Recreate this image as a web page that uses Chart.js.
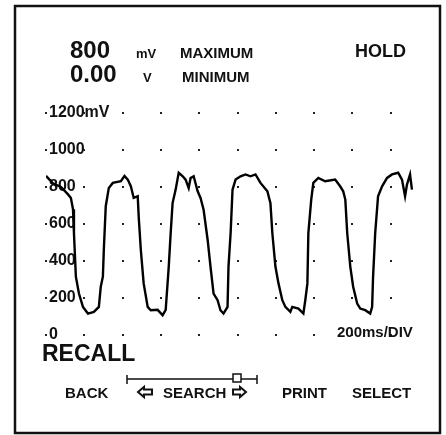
<!DOCTYPE html>
<html>
<head>
<meta charset="utf-8">
<script src="https://cdn.jsdelivr.net/npm/chart.js@4"></script>
<style>
  html, body { margin: 0; padding: 0; background: #fff; }
  #wrap { position: relative; width: 446px; height: 435px; }
</style>
</head>
<body>
<div id="wrap"><canvas id="scope"></canvas></div>
<script>
// trace (time in ms, level in mV)
const timeMs = [0, 36, 78, 115, 130, 141, 146, 156, 172, 193, 219, 250, 276, 286, 297, 302, 312, 328, 349, 391, 410, 427, 443, 458, 479, 484, 495, 510, 531, 547, 583, 609, 625, 641, 651, 661, 677, 693, 714, 729, 745, 755, 771, 792, 807, 823, 844, 859, 875, 896, 911, 927, 948, 953, 964, 974, 990, 1016, 1042, 1068, 1094, 1120, 1156, 1172, 1182, 1198, 1214, 1234, 1250, 1276, 1286, 1318, 1344, 1354, 1365, 1370, 1385, 1396, 1422, 1458, 1510, 1536, 1552, 1563, 1573, 1589, 1604, 1625, 1641, 1667, 1693, 1703, 1708, 1719, 1734, 1755, 1781, 1807, 1839, 1859, 1875, 1885, 1901, 1911]
const voltsMv = [860, 820, 800, 760, 741, 680, 550, 315, 224, 152, 116, 125, 152, 261, 315, 462, 696, 795, 822, 831, 860, 840, 804, 741, 750, 641, 462, 279, 152, 134, 136, 107, 136, 370, 550, 713, 786, 877, 858, 840, 795, 849, 858, 777, 741, 677, 515, 370, 224, 188, 134, 116, 152, 370, 550, 786, 840, 858, 868, 858, 868, 822, 777, 713, 550, 370, 279, 188, 152, 125, 152, 143, 116, 188, 279, 550, 732, 822, 849, 831, 840, 804, 777, 732, 550, 370, 261, 170, 143, 134, 116, 152, 315, 550, 750, 804, 849, 868, 877, 840, 750, 813, 868, 786]
const yTicks = [0, 200, 400, 600, 800, 1000, 1200]
const yTickLabels = ['0', '200', '400', '600', '800', '1000', '1200mV']
const xDivs = [0, 200, 400, 600, 800, 1000, 1200, 1400, 1600, 1800]

const points = timeMs.map((t, i) => ({ x: t, y: voltsMv[i] }))
const FONT = '"Liberation Sans", Arial, sans-serif'

// screen furniture: frame, readouts, soft-key labels, dotted graticule
const scopePlugin = {
  id: 'scope',
  beforeDatasetsDraw(chart) {
    const ctx = chart.ctx
    const xs = chart.scales.x
    const ys = chart.scales.y
    ctx.save()
    ctx.fillStyle = '#222'
    for (const t of xDivs) {
      for (const v of yTicks) {
        const px = xs.getPixelForValue(t)
        const py = ys.getPixelForValue(v)
        ctx.fillRect(Math.round(px) - 1, Math.round(py) - 1, 2, 2)
      }
    }
    ctx.restore()
  },
  afterDraw(chart) {
    const ctx = chart.ctx
    ctx.save()
    ctx.strokeStyle = '#111'
    ctx.lineWidth = 2.5
    ctx.strokeRect(15, 6, 425, 427)

    ctx.fillStyle = '#111'
    ctx.textBaseline = 'alphabetic'
    ctx.textAlign = 'left'
    ctx.font = 'bold 24px ' + FONT
    ctx.fillText('800', 70, 58)
    ctx.fillText('0.00', 70, 82)
    ctx.font = 'bold 13px ' + FONT
    ctx.fillText('mV', 136, 58)
    ctx.fillText('V', 143, 82)
    ctx.font = 'bold 15px ' + FONT
    ctx.fillText('MAXIMUM', 180, 58)
    ctx.fillText('MINIMUM', 182, 82)
    ctx.font = 'bold 18px ' + FONT
    ctx.fillText('HOLD', 355, 57)

    ctx.font = 'bold 15px ' + FONT
    ctx.textBaseline = 'middle'
    ctx.fillText('200ms/DIV', 337, 333)

    ctx.font = 'bold 23px ' + FONT
    ctx.textBaseline = 'alphabetic'
    ctx.fillText('RECALL', 42, 361)

    ctx.font = 'bold 15px ' + FONT
    ctx.fillText('BACK', 65, 398)
    ctx.fillText('SEARCH', 163, 398)
    ctx.fillText('PRINT', 282, 398)
    ctx.fillText('SELECT', 352, 398)

    // search slider bar
    ctx.lineWidth = 1.5
    ctx.beginPath()
    ctx.moveTo(127, 379); ctx.lineTo(257, 379)
    ctx.moveTo(127, 375); ctx.lineTo(127, 384)
    ctx.moveTo(257, 375); ctx.lineTo(257, 384)
    ctx.stroke()
    ctx.fillStyle = '#fff'
    ctx.fillRect(233, 374, 8, 8)
    ctx.strokeRect(233, 374, 8, 8)

    // arrows
    ctx.lineWidth = 2
    ctx.beginPath()
    ctx.moveTo(138, 392); ctx.lineTo(144, 387); ctx.lineTo(144, 389.5); ctx.lineTo(152, 389.5)
    ctx.lineTo(152, 394.5); ctx.lineTo(144, 394.5); ctx.lineTo(144, 397); ctx.closePath()
    ctx.stroke()
    ctx.beginPath()
    ctx.moveTo(246, 392); ctx.lineTo(240, 387); ctx.lineTo(240, 389.5); ctx.lineTo(233, 389.5)
    ctx.lineTo(233, 394.5); ctx.lineTo(240, 394.5); ctx.lineTo(240, 397); ctx.closePath()
    ctx.stroke()
    ctx.restore()
  }
}

new Chart(document.getElementById('scope'), {
  type: 'line',
  data: {
    datasets: [{
      data: points,
      borderColor: '#000',
      borderWidth: 2.4,
      pointRadius: 0,
      tension: 0,
    }],
  },
  options: {
    responsive: true,
    maintainAspectRatio: false,
    animation: false,
    layout: { padding: { left: 40, right: 17, top: 113, bottom: 100 } },
    plugins: { legend: { display: false }, tooltip: { enabled: false } },
    scales: {
      x: { type: 'linear', min: 0, max: 2000, display: false },
      y: {
        type: 'linear',
        min: 0,
        max: 1200,
        afterBuildTicks: (axis) => { axis.ticks = yTicks.map((v) => ({ value: v })) },
        grid: { display: false, drawTicks: false },
        border: { display: false },
        ticks: {
          mirror: true,
          padding: 3,
          color: '#111',
          font: { family: FONT, size: 16, weight: 'bold' },
          callback: (v) => yTickLabels[yTicks.indexOf(v)],
        },
      },
    },
  },
  plugins: [scopePlugin],
})
</script>
</body>
</html>
